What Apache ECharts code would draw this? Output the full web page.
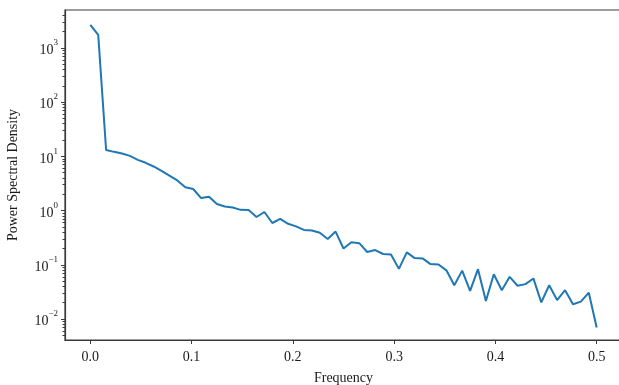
<!DOCTYPE html>
<html>
<head>
<meta charset="utf-8">
<script src="https://cdn.jsdelivr.net/npm/echarts@6/dist/echarts.min.js"></script>
<style>
  html, body { margin: 0; padding: 0; background: #fff; }
  #chart { width: 619px; height: 385px; }
</style>
</head>
<body>
<div id="chart"></div>
<script>
// frequency bins (cycles / sample)
const freqs = [
  0, 0.0078, 0.0156, 0.0234, 0.0313, 0.0391, 0.0469, 0.0547, 0.0625, 0.0703,
  0.0781, 0.0859, 0.0938, 0.1016, 0.1094, 0.1172, 0.125, 0.1328, 0.1406, 0.1484,
  0.1563, 0.1641, 0.1719, 0.1797, 0.1875, 0.1953, 0.2031, 0.2109, 0.2188, 0.2266,
  0.2344, 0.2422, 0.25, 0.2578, 0.2656, 0.2734, 0.2813, 0.2891, 0.2969, 0.3047,
  0.3125, 0.3203, 0.3281, 0.3359, 0.3438, 0.3516, 0.3594, 0.3672, 0.375, 0.3828,
  0.3906, 0.3984, 0.4063, 0.4141, 0.4219, 0.4297, 0.4375, 0.4453, 0.4531, 0.4609,
  0.4688, 0.4766, 0.4844, 0.4922, 0.5
];
const psd = [
  2650, 1740, 13.1, 12.1, 11.3, 10.2, 8.6, 7.6, 6.5, 5.4,
  4.4, 3.6, 2.7, 2.5, 1.7, 1.8, 1.32, 1.19, 1.14, 1.03,
  1.02, 0.76, 0.94, 0.59, 0.70, 0.57, 0.51, 0.44, 0.43, 0.39,
  0.30, 0.41, 0.20, 0.26, 0.25, 0.172, 0.187, 0.158, 0.155, 0.084,
  0.169, 0.133, 0.131, 0.103, 0.101, 0.079, 0.042, 0.078, 0.033, 0.083,
  0.0215, 0.067, 0.034, 0.060, 0.041, 0.044, 0.056, 0.0203, 0.042, 0.0224,
  0.034, 0.0187, 0.0209, 0.0306, 0.0070
];
const xTicks = [0, 0.1, 0.2, 0.3, 0.4, 0.5];
const yTicks = [0.01, 0.1, 1, 10, 100, 1000];

// matplotlib-style minor ticks: 2..9 x 10^n
const yMinorTicks = [];
for (let n = -3; n <= 3; n++) {
  for (let k = 2; k <= 9; k++) {
    const v = k * Math.pow(10, n);
    if (v > 0.0041 && v < 5000) yMinorTicks.push(v);
  }
}

const font = "'Liberation Serif', 'DejaVu Serif', serif";
const axisColor = "#3a3a3a";
const textColor = "#1a1a1a";

const chart = echarts.init(document.getElementById("chart"), null, { renderer: "canvas" });

const sup = (v) => {
  const e = Math.round(Math.log10(v));
  return "{b|10}{e|" + (e < 0 ? "\u2212" + (-e) : e) + "}";
};

chart.setOption({
  animation: false,
  backgroundColor: "#fff",
  grid: {
    left: 65,
    right: -3,
    top: 10,
    bottom: 45,
    outerBoundsMode: "none",
    containLabel: false,
    show: true,
    borderColor: axisColor,
    borderWidth: 1.2,
    backgroundColor: "transparent"
  },
  xAxis: {
    type: "value",
    min: -0.025,
    max: 0.525,
    name: "Frequency",
    nameLocation: "middle",
    nameGap: 31,
    nameTextStyle: { fontFamily: font, fontSize: 14, color: textColor },
    axisLine: { show: true, onZero: false, lineStyle: { color: axisColor, width: 1.2 } },
    axisTick: { show: true, length: 4, customValues: xTicks, lineStyle: { color: axisColor } },
    axisLabel: {
      customValues: xTicks,
      formatter: (v) => v.toFixed(1),
      fontFamily: font,
      fontSize: 14,
      color: textColor,
      margin: 10
    },
    splitLine: { show: false }
  },
  yAxis: [
    {
      type: "log",
      logBase: 10,
      min: 0.0041,
      max: 5000,
      name: "Power Spectral Density",
      nameLocation: "middle",
      nameGap: 45,
      nameTextStyle: { fontFamily: font, fontSize: 14, color: textColor },
      axisLine: { show: true, onZero: false, lineStyle: { color: axisColor, width: 1.2 } },
      axisTick: { show: true, length: 4, customValues: yTicks, lineStyle: { color: axisColor } },
      axisLabel: {
        customValues: yTicks,
        formatter: sup,
        margin: 7,
        color: textColor,
        rich: {
          b: { fontFamily: font, fontSize: 14, color: textColor, padding: [5, 0, 0, 0] },
          e: { fontFamily: font, fontSize: 9, color: textColor, verticalAlign: "top" }
        }
      },
      splitLine: { show: false }
    },
    {
      type: "log",
      logBase: 10,
      min: 0.0041,
      max: 5000,
      position: "left",
      axisLine: { show: false, onZero: false },
      axisTick: { show: true, length: 2.5, customValues: yMinorTicks, lineStyle: { color: axisColor, width: 1 } },
      axisLabel: { show: false },
      splitLine: { show: false }
    }
  ],
  series: [
    {
      type: "line",
      data: freqs.map((f, i) => [f, psd[i]]),
      showSymbol: false,
      lineStyle: { color: "#1f77b4", width: 2 },
      itemStyle: { color: "#1f77b4" }
    }
  ]
});
</script>
</body>
</html>
